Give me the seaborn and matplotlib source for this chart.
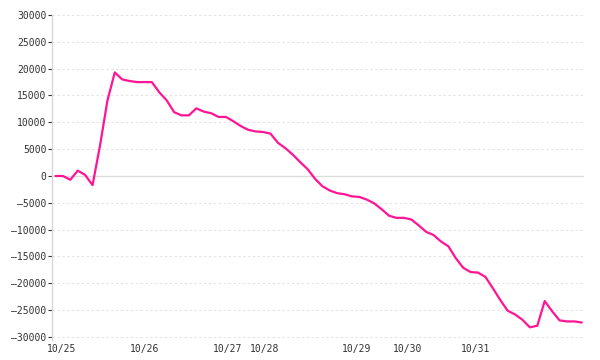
import matplotlib
matplotlib.use("Agg")
import matplotlib.pyplot as plt
import seaborn as sns
import pandas as pd
import numpy as np

# ---- data ----
values = [0, 0, -700, 1000, 200, -1700, 5600, 14000, 19300, 18000,
          17700, 17500, 17500, 17500, 15600, 14100, 11900, 11300, 11300, 12600,
          12000, 11700, 11000, 11000, 10200, 9300, 8600, 8300, 8200, 7900,
          6200, 5200, 4000, 2600, 1300, -500, -1900, -2700, -3200, -3400,
          -3800, -3900, -4400, -5100, -6200, -7400, -7800, -7800, -8100, -9200,
          -10400, -11000, -12200, -13100, -15300, -17100, -17900, -18000, -18800, -20900,
          -23100, -25100, -25800, -26800, -28200, -27900, -23300, -25200, -26900, -27100,
          -27100, -27300]
day_labels = ["10/25", "10/26", "10/27", "10/28", "10/29", "10/30", "10/31"]
day_tick_pos = [0.78, 12.04, 23.21, 28.14, 40.59, 47.44, 56.65]
y_ticks = list(range(-30000, 30001, 5000))

df = pd.DataFrame({"idx": np.arange(len(values)), "value": values})

sns.set_style("white")
plt.rcParams["font.family"] = ["DejaVu Sans Mono", "DejaVu Sans"]

fig = plt.figure(figsize=(6, 3.6), dpi=100)
ax = fig.add_axes([52 / 600, 1 - 340 / 360, (584 - 52) / 600, (340 - 15) / 360])

# grid lines
for yt in y_ticks:
    if yt == 0:
        ax.axhline(0, color="#dddddd", lw=1.0, zorder=1)
    else:
        ax.axhline(yt, color="#e4e4e4", lw=0.8, ls=(0, (2.2, 2.2)), zorder=1)

sns.lineplot(data=df, x="idx", y="value", ax=ax, color="#ff1493", lw=1.6, zorder=3)

ax.set_xlim(-0.47, 71.3)
ax.set_ylim(-30560, 30000)
ax.set_yticks(y_ticks)
ax.set_yticklabels([str(v).replace("-", "\u2013") if v < 0 else str(v) for v in y_ticks])
ax.set_xticks(day_tick_pos)
ax.set_xticklabels(day_labels)
ax.set_xlabel("")
ax.set_ylabel("")

ax.tick_params(axis="y", length=3, width=0.8, color="#333333", pad=1,
               labelsize=7, labelcolor="#333333", left=True)
ax.tick_params(axis="x", length=0, pad=3, labelsize=7, labelcolor="#333333")

for s in ["top", "right", "bottom"]:
    ax.spines[s].set_visible(False)
ax.spines["left"].set_color("#d8d8d8")
ax.spines["left"].set_linewidth(1.0)
ax.grid(False)

fig.savefig("out.png", dpi=100)
